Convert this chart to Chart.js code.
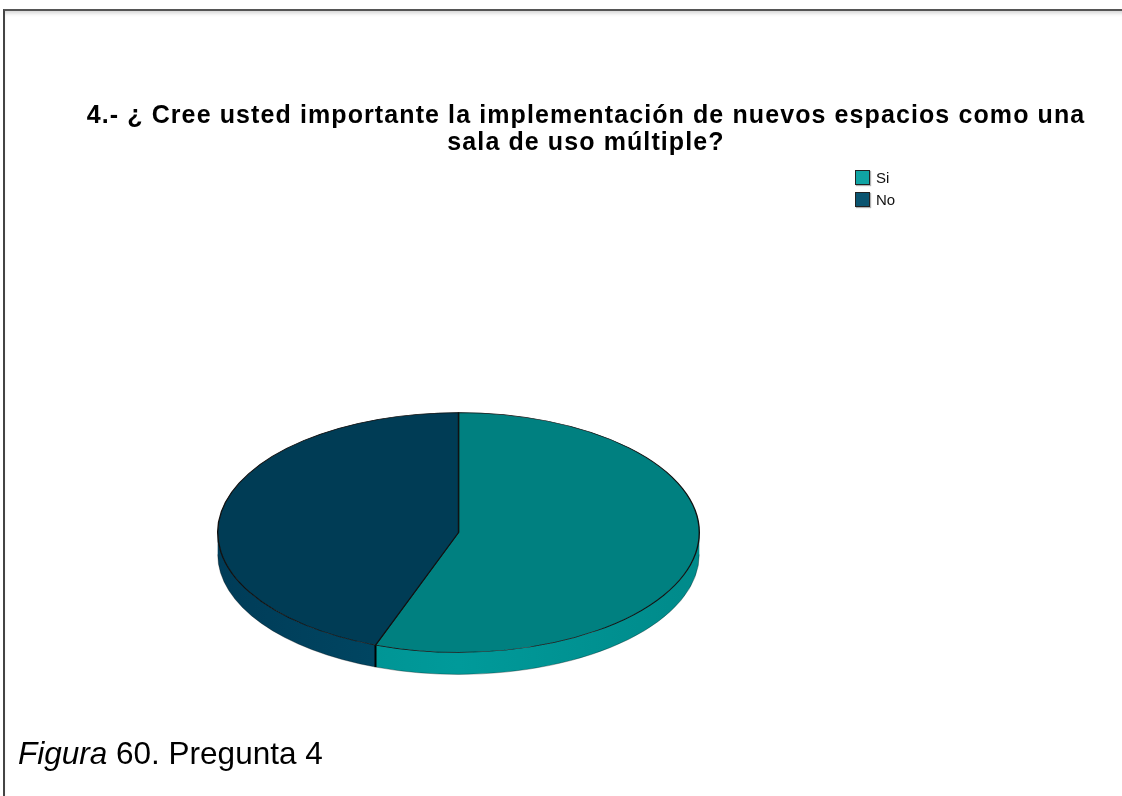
<!DOCTYPE html>
<html>
<head>
<meta charset="utf-8">
<script src="https://cdn.jsdelivr.net/npm/chart.js@4"></script>
<style>
  html, body { margin: 0; padding: 0; background: #fff; }
  body { width: 1122px; height: 796px; position: relative; overflow: hidden;
         font-family: "Liberation Sans", Arial, sans-serif; }
  #frame { position: absolute; left: 3px; top: 9px; right: -10px; bottom: -10px;
           border-top: 2px solid #555; border-left: 2px solid #444;
           box-shadow: inset 0 4px 4px -2px rgba(0,0,0,0.18); }
  #chartBox { position: absolute; left: 0; top: 0; width: 1122px; height: 796px; }
  #title { position: absolute; left: 0; width: 1172px; top: 101px; text-align: center;
           font-weight: bold; font-size: 25px; line-height: 27px; letter-spacing: 1.1px; color: #000; }
  #legend { position: absolute; left: 855px; top: 166px; font-size: 15px; color: #111; }
  .legend-item { display: flex; align-items: center; height: 22px; }
  .legend-box { width: 13px; height: 13px; border: 1px solid #222; margin-right: 6px;
                box-shadow: 1px 1px 1px rgba(0,0,0,0.3); }
  #caption { position: absolute; left: 18px; top: 735px; font-size: 31.5px; color: #000; }
</style>
</head>
<body>
<div id="frame"></div>
<div id="chartBox"><canvas id="pieChart"></canvas></div>
<div id="title">4.- ¿ Cree usted importante la implementación de nuevos espacios como una<br>sala de uso múltiple?</div>
<div id="legend"></div>
<div id="caption"><i>Figura</i> 60. Pregunta 4</div>
<script>
'use strict';

// datos (porcentaje aprox.)
const labels      = ['Si', 'No'];
const values      = [55.6, 44.4];
const topColors   = ['#008080', '#003c55'];
const sideColors  = ['#009a9a', '#004a66'];
const legendColors = ['#10a4a4', '#0a5470'];

const TILT  = 0.498;  // aplastado vertical
const DEPTH = 22;     // grosor del pastel

// caras laterales + inclinación
const tiltPlugin = {
  id: 'tilt',
  beforeDatasetsDraw(chart) {
    const ctx = chart.ctx;
    const arcs = chart.getDatasetMeta(0).data;
    if (!arcs.length) return;
    const cx = arcs[0].x, cy = arcs[0].y;
    const rx = arcs[0].outerRadius, ry = rx * TILT;

    ctx.save();
    arcs.forEach((arc, i) => {
      // parte frontal: ángulos entre 0 y PI
      [0, 2 * Math.PI, -2 * Math.PI].forEach(shift => {
        const s = Math.max(arc.startAngle + shift, 0);
        const e = Math.min(arc.endAngle + shift, Math.PI);
        if (e <= s) return;
        ctx.beginPath();
        ctx.ellipse(cx, cy, rx, ry, 0, s, e, false);
        ctx.lineTo(cx + rx * Math.cos(e), cy + ry * Math.sin(e) + DEPTH);
        ctx.ellipse(cx, cy + DEPTH, rx, ry, 0, e, s, true);
        ctx.closePath();
        const g = ctx.createLinearGradient(cx - rx, 0, cx + rx, 0);
        g.addColorStop(0, shade(sideColors[i], -14));
        g.addColorStop(0.5, sideColors[i]);
        g.addColorStop(1, shade(sideColors[i], -16));
        ctx.fillStyle = g;
        ctx.fill();
        ctx.lineWidth = 0.6;
        ctx.strokeStyle = 'rgba(0,0,0,0.5)';
        ctx.beginPath();
        ctx.ellipse(cx, cy + DEPTH, rx, ry, 0, s, e, false);
        ctx.stroke();
      });
      // línea vertical en el borde del sector
      const a = arc.startAngle;
      const sa = Math.sin(a);
      if (sa > 0.001) {
        const x = cx + rx * Math.cos(a), y = cy + ry * sa;
        ctx.beginPath();
        ctx.moveTo(x, y);
        ctx.lineTo(x, y + DEPTH);
        ctx.lineWidth = 2;
        ctx.strokeStyle = '#000';
        ctx.stroke();
      }
    });
    ctx.restore();

    ctx.save();
    ctx.translate(cx, cy);
    ctx.scale(1, TILT);
    ctx.translate(-cx, -cy);
  },
  afterDatasetsDraw(chart) {
    chart.ctx.restore();
  }
};

function shade(hex, amt) {
  const n = parseInt(hex.slice(1), 16);
  const c = v => Math.max(0, Math.min(255, v + amt));
  const r = c(n >> 16), g = c((n >> 8) & 255), b = c(n & 255);
  return `rgb(${r},${g},${b})`;
}

new Chart(document.getElementById('pieChart'), {
  type: 'pie',
  data: {
    labels: labels,
    datasets: [{
      data: values,
      backgroundColor: topColors,
      borderColor: '#111',
      borderWidth: 1.4,
      hoverOffset: 0,
      offset: 0
    }]
  },
  options: {
    responsive: true,
    maintainAspectRatio: false,
    animation: false,
    events: [],
    layout: { padding: { left: 217, right: 422, top: 291, bottom: 22 } },
    plugins: {
      legend: { display: false },
      tooltip: { enabled: false },
      title: { display: false }
    }
  },
  plugins: [tiltPlugin]
});

document.getElementById('legend').innerHTML = labels.map((l, i) => `
  <div class="legend-item">
    <div class="legend-box" style="background:${legendColors[i]}"></div><span>${l}</span>
  </div>`).join('');
</script>
</body>
</html>
